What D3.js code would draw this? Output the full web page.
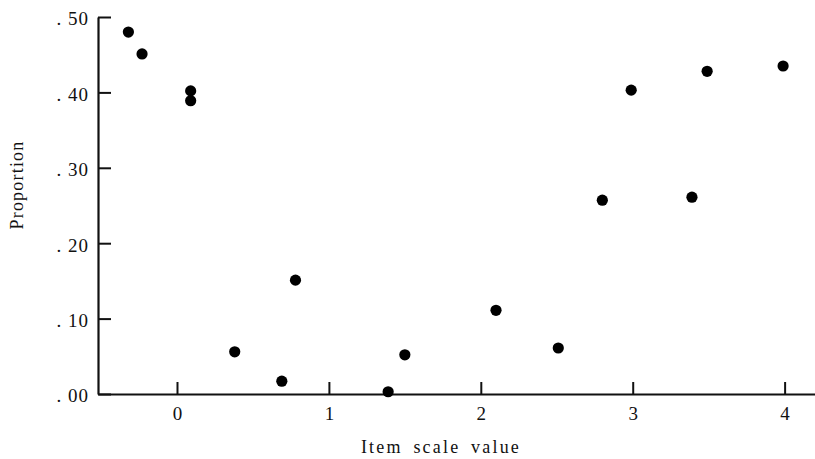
<!DOCTYPE html>
<html>
<head>
<meta charset="utf-8">
<script src="https://cdn.jsdelivr.net/npm/d3@7"></script>
<style>
  html, body { margin: 0; padding: 0; background: #fff; }
  svg { display: block; }
  text { font-family: "Liberation Serif", "DejaVu Serif", serif; fill: #111; }
</style>
</head>
<body>
<svg id="chart" width="815" height="459"></svg>
<script>
// Data
const scaleValues = [-0.32, -0.23, 0.09, 0.09, 0.38, 0.69, 0.78, 1.39, 1.50, 2.10, 2.51, 2.80, 2.99, 3.39, 3.49, 3.99];
const proportions = [0.480, 0.451, 0.402, 0.389, 0.056, 0.017, 0.151, 0.003, 0.052, 0.111, 0.061, 0.257, 0.403, 0.261, 0.428, 0.435];
const xTicks = [0, 1, 2, 3, 4];
const yTicks = [0, 0.10, 0.20, 0.30, 0.40, 0.50];
const xTitle = "Item scale value";
const yTitle = "Proportion";

const svg = d3.select("#chart");

const x = d3.scaleLinear().domain([-0.52, 4.2]).range([98, 815]);
const y = d3.scaleLinear().domain([0, 0.5]).range([394, 17]);

const fmtY = d => ". " + d3.format(".2f")(d).slice(2);

// X axis
const gx = svg.append("g")
  .attr("transform", `translate(0,${y(0)})`)
  .call(d3.axisBottom(x).tickValues(xTicks).tickFormat(d3.format("d"))
        .tickSizeInner(-12).tickSizeOuter(0).tickPadding(13));
gx.select(".domain").attr("stroke", "#111").attr("stroke-width", 2.2);
gx.selectAll(".tick line").attr("stroke", "#111").attr("stroke-width", 2);
gx.selectAll(".tick text").style("font-size", "19px").attr("fill", "#111");

// Y axis
const gy = svg.append("g")
  .attr("transform", `translate(${x(-0.52)},0)`)
  .call(d3.axisLeft(y).tickValues(yTicks).tickFormat(fmtY)
        .tickSizeInner(-13).tickSizeOuter(0).tickPadding(9));
gy.select(".domain").attr("stroke", "#111").attr("stroke-width", 2.2);
gy.selectAll(".tick line").attr("stroke", "#111").attr("stroke-width", 2);
gy.selectAll(".tick text").style("font-size", "19px").style("letter-spacing", "1px")
  .attr("fill", "#111").attr("dy", "0.42em");

// Points
svg.append("g").selectAll("circle")
  .data(scaleValues.map((v, i) => ({x: v, y: proportions[i]})))
  .join("circle")
  .attr("cx", d => x(d.x))
  .attr("cy", d => y(d.y))
  .attr("r", 5.6)
  .attr("fill", "#000");

// Titles
svg.append("text")
  .attr("x", 441).attr("y", 453)
  .attr("text-anchor", "middle")
  .style("font-size", "18px")
  .style("letter-spacing", "2.2px")
  .style("word-spacing", "4px")
  .text(xTitle);

svg.append("text")
  .attr("transform", "translate(23,185) rotate(-90)")
  .attr("text-anchor", "middle")
  .style("font-size", "18px")
  .style("letter-spacing", "1.2px")
  .text(yTitle);
</script>
</body>
</html>
